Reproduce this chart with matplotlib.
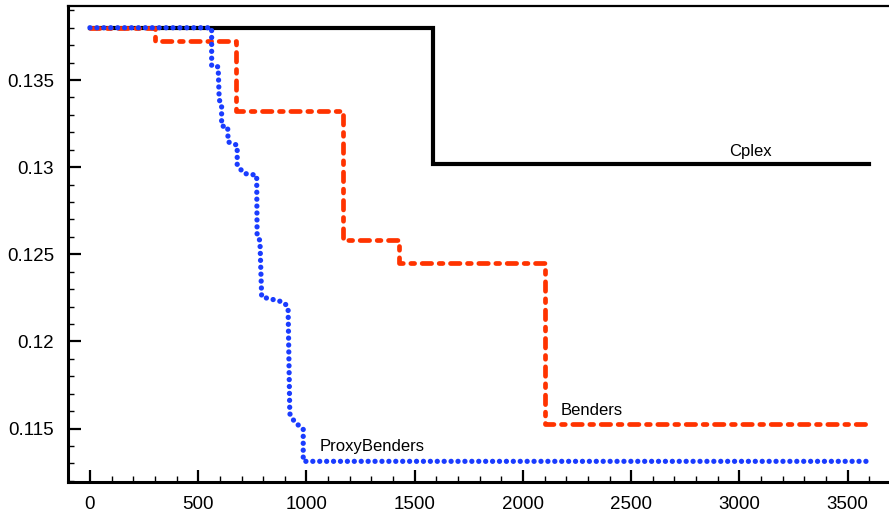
import matplotlib
matplotlib.use("Agg")
import matplotlib.pyplot as plt
from matplotlib.ticker import MultipleLocator

plt.rcParams['font.family'] = ['Liberation Sans', 'DejaVu Sans']

# Data
cplex_t = [0, 1585, 1585, 3600]
cplex_v = [0.1380, 0.1380, 0.1302, 0.1302]

benders_t = [0, 300, 300, 674, 674, 1168, 1168, 1427, 1427, 2100, 2100, 3600]
benders_v = [0.1380, 0.1380, 0.13724, 0.13724, 0.13322, 0.13322, 0.1258, 0.1258,
             0.12448, 0.12448, 0.11529, 0.11529]

proxy_t = [0, 562, 562, 592, 597, 608, 608, 636, 638, 680, 680, 711, 770, 772,
           785, 793, 831, 892, 908, 915, 923, 946, 985, 985, 3600]
proxy_v = [0.1380, 0.1380, 0.13580, 0.13576, 0.13385, 0.13366, 0.13236, 0.13232,
           0.13145, 0.13126, 0.13012, 0.12964, 0.12954, 0.12599, 0.12580, 0.12255,
           0.12245, 0.12226, 0.12207, 0.12197, 0.11585, 0.11536, 0.11498, 0.11312,
           0.11312]

labels = {"Cplex": (3050, 0.1309), "Benders": (2318, 0.11606), "ProxyBenders": (1301, 0.11396)}

fig = plt.figure(figsize=(8.89, 5.16), dpi=100)
ax = fig.add_axes([68/889, 34/516, 1 - 68/889, (482-6)/516])

ax.plot(cplex_t, cplex_v, color='black', lw=3, solid_joinstyle='miter', zorder=2)
ax.plot(benders_t, benders_v, color='#ff3300', lw=3.4, dash_capstyle='round',
        dash_joinstyle='round', linestyle=(0, (2.0, 1.6, 0.8, 1.6)), zorder=3)
ax.plot(proxy_t, proxy_v, color='#1a3cff', lw=3.8, dash_capstyle='round',
        linestyle=(0, (0.01, 1.3)), zorder=4)

for name, (x, y) in labels.items():
    ax.text(x, y, name, fontsize=12, ha='center', va='center', color='black')

ax.set_xlim(-101.6, 3691)
ax.set_ylim(0.111934, 0.139249)

ax.xaxis.set_minor_locator(MultipleLocator(100))
ax.yaxis.set_minor_locator(MultipleLocator(0.001))
ax.set_yticks([0.115, 0.12, 0.125, 0.13, 0.135])
ax.set_yticklabels(['0.115', '0.12', '0.125', '0.13', '0.135'])
ax.set_xticks([0, 500, 1000, 1500, 2000, 2500, 3000, 3500])

ax.tick_params(which='major', direction='in', length=9, width=1.6, labelsize=13.5, pad=10)
ax.tick_params(which='minor', direction='in', length=4.5, width=1.0)
ax.tick_params(top=False, right=False, which='both')

ax.spines['right'].set_visible(False)
ax.spines['left'].set_linewidth(2.2)
ax.spines['bottom'].set_linewidth(2.2)
ax.spines['top'].set_linewidth(1.6)

fig.savefig('out.png', dpi=100)
